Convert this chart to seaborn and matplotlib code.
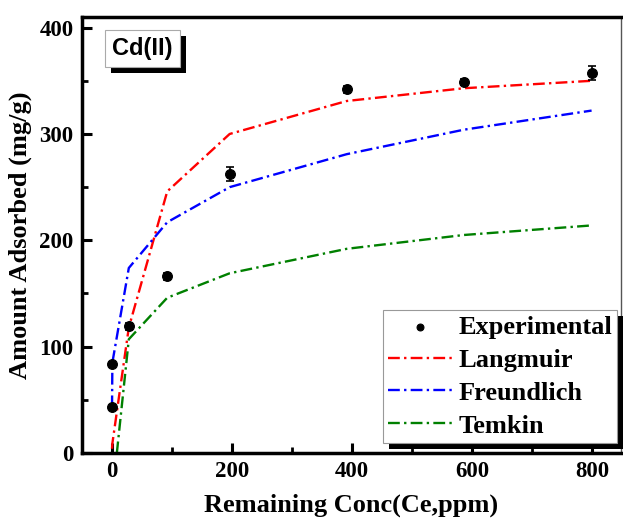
import numpy as np
import pandas as pd
import matplotlib
matplotlib.use("Agg")
import matplotlib.pyplot as plt
from matplotlib.patches import Rectangle
from matplotlib.ticker import MultipleLocator
import seaborn as sns

# ---- data ----
ce = [0.02, 0.6, 28, 92, 196, 391, 586, 799]
qe_exp = [43, 84, 119, 166, 262, 342, 349, 357]
qe_err = [2, 2, 3, 3, 6.5, 3, 3, 6.5]
langmuir = [4, 9, 118, 246, 300, 331, 343, 350]
freundlich = [43, 85, 174, 217, 250, 281, 304, 322]
temkin = [-138, -40, 107, 146, 169, 192, 205, 214]

sns.set_theme(style="white")
plt.rcParams['font.family'] = ['Liberation Serif', 'DejaVu Serif']
plt.rcParams['text.color'] = 'black'
plt.rcParams['axes.labelcolor'] = 'black'
plt.rcParams['xtick.color'] = 'black'
plt.rcParams['ytick.color'] = 'black'

fig = plt.figure(figsize=(6.23, 5.2), dpi=100)
W, H = 623, 520
ax = fig.add_axes([82 / W, 1 - 453 / H, (621 - 82) / W, (453 - 17) / H])

df = pd.DataFrame({"ce": ce, "Langmuir": langmuir, "Freundlich": freundlich, "Temkin": temkin})
dash = (0, (5, 1.8, 1, 1.8))
for name, col in [("Langmuir", "#ff0000"), ("Freundlich", "#0000ff"), ("Temkin", "#008000")]:
    sns.lineplot(data=df, x="ce", y=name, ax=ax, color=col, linestyle=dash, lw=1.7,
                 sort=False, estimator=None, label=name, zorder=2)

ax.errorbar(ce, qe_exp, yerr=qe_err, fmt='none', ecolor='black', elinewidth=1.2,
            capsize=3, capthick=1.2, zorder=3)
sns.scatterplot(x=ce, y=qe_exp, ax=ax, color='black', s=50, edgecolor='black',
                linewidth=0.8, label="Experimental", zorder=4)

ax.set_xlim(-50, 848)
ax.set_ylim(0, 410)
ax.xaxis.set_major_locator(MultipleLocator(200))
ax.xaxis.set_minor_locator(MultipleLocator(100))
ax.yaxis.set_major_locator(MultipleLocator(100))
ax.yaxis.set_minor_locator(MultipleLocator(50))
ax.tick_params(axis='both', which='major', direction='in', length=7, width=2.2,
               labelsize=16.5, bottom=True, left=True, top=False, right=False, pad=6,
               colors='black')
ax.tick_params(axis='both', which='minor', direction='in', length=4, width=2,
               bottom=True, left=True, top=False, right=False, colors='black')
for lab in ax.get_xticklabels() + ax.get_yticklabels():
    lab.set_fontweight('bold')

for side in ['left', 'bottom', 'top']:
    ax.spines[side].set_linewidth(2.5)
    ax.spines[side].set_color('black')
ax.spines['right'].set_linewidth(1.0)
ax.spines['right'].set_color('#555555')

ax.set_xlabel("Remaining Conc(Ce,ppm)", fontsize=19, fontweight='bold', labelpad=8,
              color='black')
ax.set_ylabel("Amount Adsorbed (mg/g)", fontsize=19, fontweight='bold', labelpad=5,
              color='black')

# legend order
handles, labels = ax.get_legend_handles_labels()
order = [labels.index(n) for n in ["Experimental", "Langmuir", "Freundlich", "Temkin"]]
handles = [handles[i] for i in order]
labels = [labels[i] for i in order]
leg = ax.legend(handles, labels, loc='lower right', bbox_to_anchor=(0.993, 0.023),
                borderaxespad=0, fancybox=False, framealpha=1, edgecolor='#999999',
                prop={'family': 'Liberation Serif', 'weight': 'bold', 'size': 19},
                handlelength=2.4, handletextpad=0.25, labelspacing=0.36,
                borderpad=0.2, markerscale=0.7, labelcolor='black')
leg.get_frame().set_linewidth(0.8)
leg.set_zorder(12)

# Cd(II) label
cd = ax.text(0.112, 0.927, "Cd(II)", transform=ax.transAxes, color='black',
             fontsize=17, fontweight='bold', family=['Liberation Sans', 'DejaVu Sans'],
             ha='center', va='center', zorder=12,
             bbox=dict(boxstyle='square,pad=0.3', fc='white', ec='#aaaaaa', lw=0.8))

# shadows (black, offset down-right)
fig.canvas.draw()
for bb in [leg.get_window_extent(), cd.get_bbox_patch().get_window_extent()]:
    sh = Rectangle((bb.x0 + 6, bb.y0 - 6), bb.width, bb.height, transform=None,
                   facecolor='black', edgecolor='none', zorder=11, clip_on=False)
    ax.add_artist(sh)

fig.savefig("out.png", dpi=100)
